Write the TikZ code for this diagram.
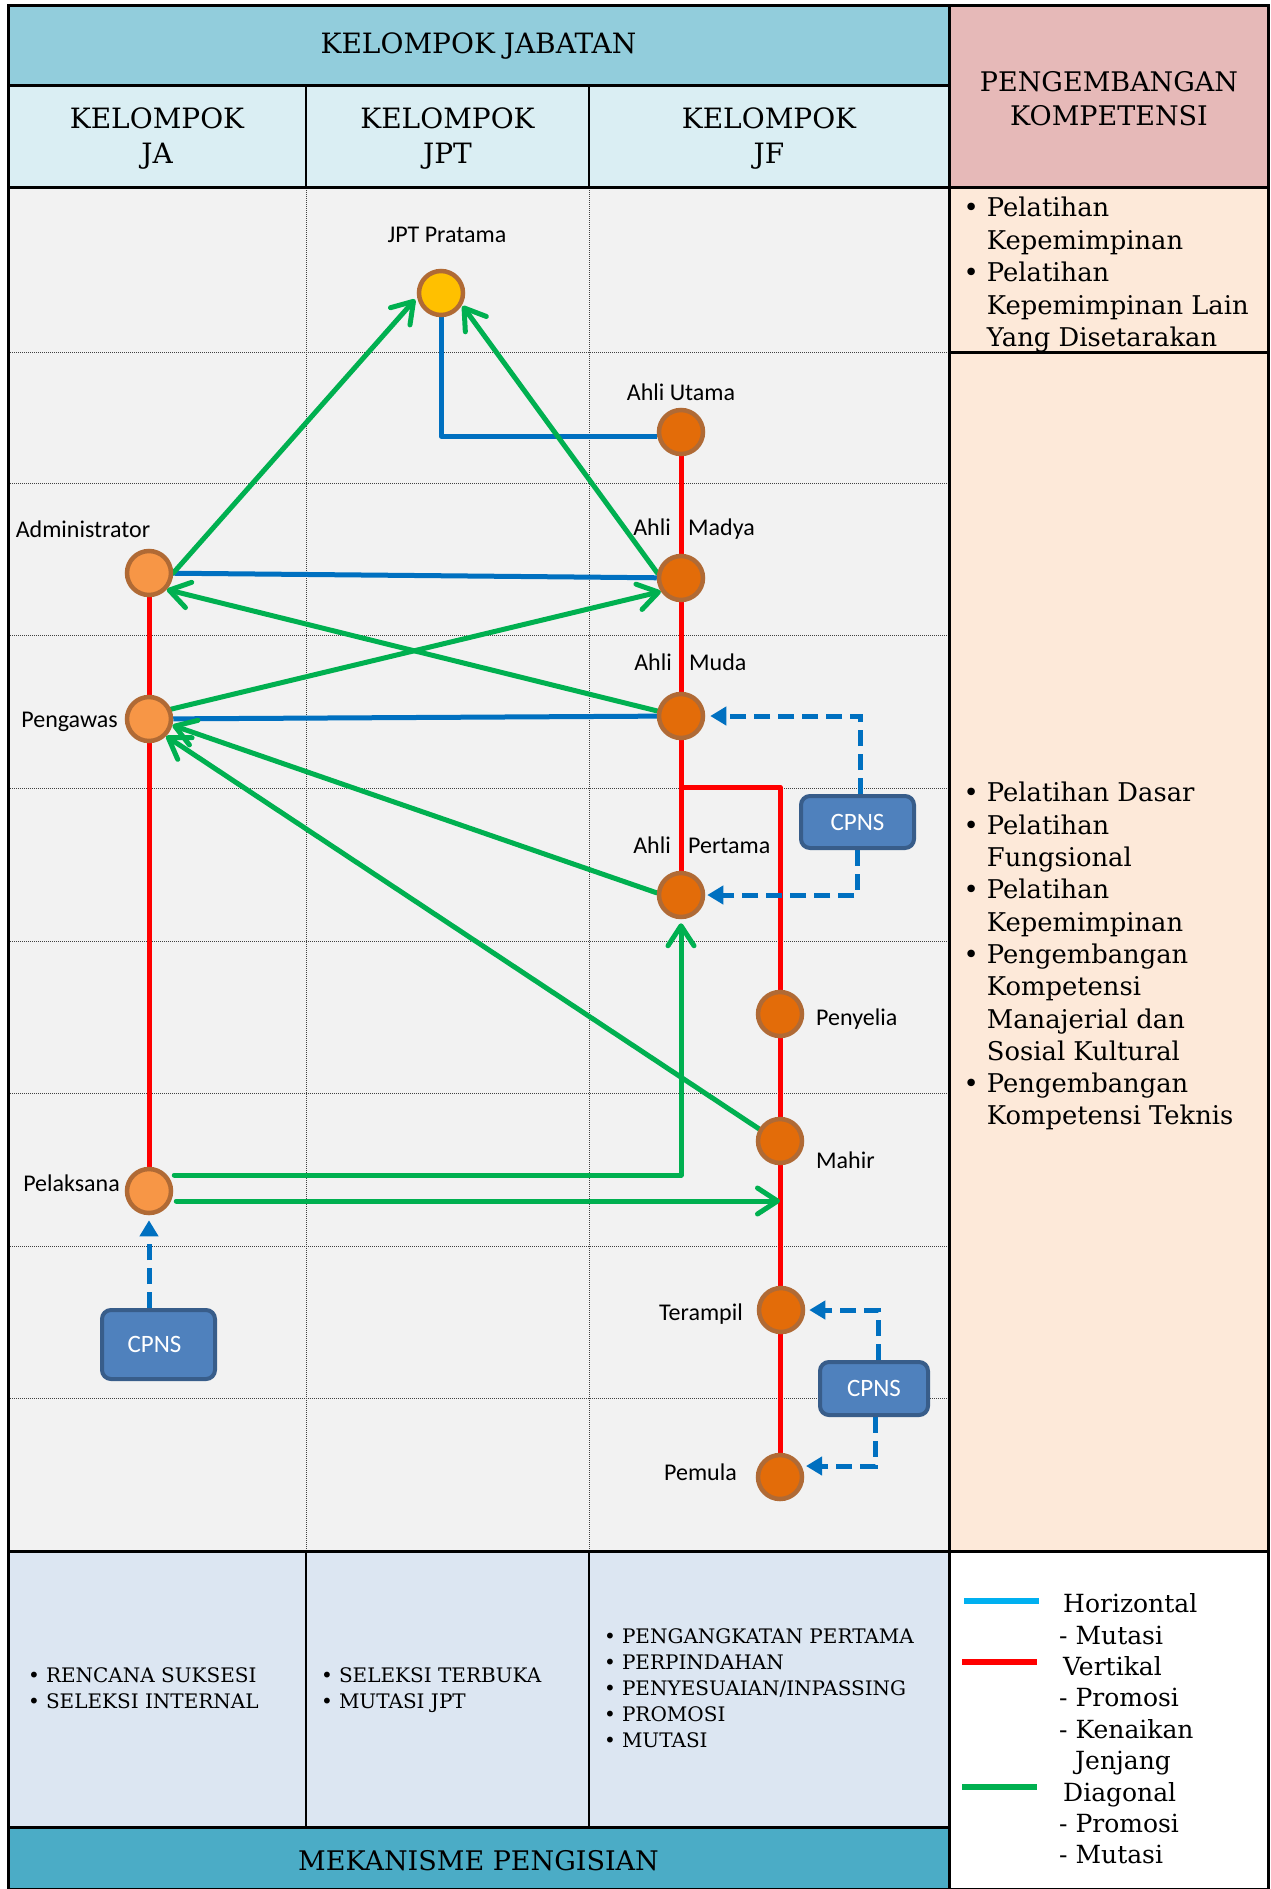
\documentclass[tikz,border=0pt]{standalone}
\usepackage{fontspec}
\setmainfont{DejaVu Serif}
\newfontfamily\lab{Carlito}
\usetikzlibrary{arrows.meta,calc}
\pgfdeclarelayer{background}
\pgfdeclarelayer{edges}
\pgfsetlayers{background,edges,main}
\definecolor{hdrA}{HTML}{92CDDC}
\definecolor{hdrB}{HTML}{DAEEF3}
\definecolor{pinkbox}{HTML}{E6B9B8}
\definecolor{peach}{HTML}{FDE9D9}
\definecolor{maingray}{HTML}{F2F2F2}
\definecolor{botblue}{HTML}{DCE6F2}
\definecolor{barblue}{HTML}{4BACC6}
\definecolor{lnblue}{HTML}{0070C0}
\definecolor{lnred}{HTML}{FF0000}
\definecolor{lngreen}{HTML}{00B050}
\definecolor{lgblue}{HTML}{00B0F0}
\definecolor{orlight}{HTML}{F79646}
\definecolor{ordark}{HTML}{E36C09}
\definecolor{gold}{HTML}{FFC000}
\definecolor{ring}{HTML}{B06A35}
\definecolor{cpnsfill}{HTML}{4F81BD}
\definecolor{cpnsline}{HTML}{385D8A}
\begin{document}
\begin{tikzpicture}[x=1pt,y=-1pt,
  frameline/.style={draw=black,line width=3pt},
  midline/.style={draw=black,line width=1.5pt},
  gridline/.style={draw=black!75,line width=1pt,dash pattern=on 1pt off 1pt},
  hdrtext/.style={font=\fontsize{28}{35}\selectfont,align=center,inner sep=0pt},
  paneltext/.style={font=\fontsize{25.8}{32.5}\selectfont,inner sep=0pt},
  bottext/.style={font=\fontsize{20}{26}\selectfont,inner sep=0pt},
  jacirc/.style={circle,minimum size=44pt,inner sep=0pt,line width=4.5pt,draw=ring,fill=orlight},
  jfcirc/.style={jacirc,fill=ordark},
  jptcirc/.style={jacirc,fill=gold},
  lbl/.style={font=\lab\fontsize{24}{28}\selectfont,inner sep=0pt,text height=15pt,text depth=0pt},
  cpns/.style={draw=cpnsline,fill=cpnsfill,line width=4pt,rounded corners=9pt,inner sep=0pt,
     text=white,font=\lab\fontsize{25}{28}\selectfont},
  bluecon/.style={draw=lnblue,line width=5pt},
  redcon/.style={draw=lnred,line width=5pt},
  greenarr/.style={draw=lngreen,line width=5pt,line cap=round,line join=round,
     -{Straight Barb[length=20pt,width=26pt,round]}},
  dasharr/.style={draw=lnblue,line width=5pt,dash pattern=on 16pt off 8pt,
     -{Triangle[length=16pt,width=18pt]}},
  swatch/.style={line width=6pt}
]
\useasboundingbox (0,0) rectangle (1270,1889);

% ---------- background cells ----------
\begin{pgfonlayer}{background}
\fill[hdrA] (8,6) rectangle (949,86);
\fill[hdrB] (8,86) rectangle (949,188);
\fill[pinkbox] (949,6) rectangle (1268,188);
\fill[maingray] (8,188) rectangle (949,1551);
\fill[peach] (949,188) rectangle (1268,1551);
\fill[botblue] (8,1551) rectangle (949,1827);
\fill[barblue] (8,1827) rectangle (949,1889);
\fill[white] (949,1551) rectangle (1268,1889);
\foreach \yy in {352,483,635,788,941,1093,1246,1398}
  \draw[gridline] (8,\yy) -- (949,\yy);
\draw[gridline] (306,188) -- (306,1551);
\draw[gridline] (589,188) -- (589,1551);
\draw[midline] (306,86) -- (306,188);
\draw[midline] (589,86) -- (589,188);
\draw[midline] (306,1551) -- (306,1827);
\draw[midline] (589,1551) -- (589,1827);
\draw[frameline] (8,86) -- (949,86);
\draw[frameline] (8,188) -- (1268,188);
\draw[frameline] (949,352) -- (1268,352);
\draw[frameline] (8,1551) -- (1268,1551);
\draw[frameline] (8,1827) -- (949,1827);
\draw[frameline] (949,6) -- (949,1889);
\draw[frameline] (8,6) rectangle (1268,1889);
\end{pgfonlayer}

% ---------- header texts ----------
\node[hdrtext] (hkj) at (478.5,46) {KELOMPOK JABATAN};
\node[hdrtext] (hja) at (157,139) {KELOMPOK\\JA};
\node[hdrtext] (hjpt) at (447.5,139) {KELOMPOK\\JPT};
\node[hdrtext] (hjf) at (769,139) {KELOMPOK\\JF};
\node[hdrtext,font=\fontsize{27}{34}\selectfont] (hpk) at (1109,99) {PENGEMBANGAN\\KOMPETENSI};

% ---------- right panel ----------
\node[paneltext,anchor=west] (pk1) at (963.5,275) {%
\begin{tabular}{@{}c@{\hspace{8pt}}l@{}}
\textbullet & Pelatihan\\
 & Kepemimpinan\\
\textbullet & Pelatihan\\
 & Kepemimpinan Lain\\
 & Yang Disetarakan
\end{tabular}};
\node[paneltext,anchor=west,font=\fontsize{25.8}{32.3}\selectfont] (pk2) at (963.5,957) {%
\begin{tabular}{@{}c@{\hspace{8pt}}l@{}}
\textbullet & Pelatihan Dasar\\
\textbullet & Pelatihan\\
 & Fungsional\\
\textbullet & Pelatihan\\
 & Kepemimpinan\\
\textbullet & Pengembangan\\
 & Kompetensi\\
 & Manajerial dan\\
 & Sosial Kultural\\
\textbullet & Pengembangan\\
 & Kompetensi Teknis
\end{tabular}};

% ---------- bottom ----------
\node[bottext,anchor=west] (mja) at (28,1690) {%
\begin{tabular}{@{}c@{\hspace{6pt}}l@{}}
\textbullet & RENCANA SUKSESI\\
\textbullet & SELEKSI INTERNAL
\end{tabular}};
\node[bottext,anchor=west] (mjpt) at (321,1690) {%
\begin{tabular}{@{}c@{\hspace{6pt}}l@{}}
\textbullet & SELEKSI TERBUKA\\
\textbullet & MUTASI JPT
\end{tabular}};
\node[bottext,anchor=west] (mjf) at (604,1690) {%
\begin{tabular}{@{}c@{\hspace{6pt}}l@{}}
\textbullet & PENGANGKATAN PERTAMA\\
\textbullet & PERPINDAHAN\\
\textbullet & PENYESUAIAN/INPASSING\\
\textbullet & PROMOSI\\
\textbullet & MUTASI
\end{tabular}};
\node[hdrtext,font=\fontsize{27}{34}\selectfont] (mek) at (478.5,1861) {MEKANISME PENGISIAN};

% ---------- legend ----------
\draw[swatch,lgblue] (964,1601) -- (1039,1601);
\draw[swatch,lnred] (962,1662) -- (1037,1662);
\draw[swatch,lngreen] (962,1787) -- (1037,1787);
\node[inner sep=0pt,anchor=west,font=\fontsize{25}{31.4}\selectfont] (leg) at (1059,1732) {%
\begin{tabular}{@{}l@{}}
\hspace{4pt}Horizontal\\
- Mutasi\\
\hspace{4pt}Vertikal\\
- Promosi\\
- Kenaikan\\
\hspace{16pt}Jenjang\\
\hspace{4pt}Diagonal\\
- Promosi\\
- Mutasi
\end{tabular}};

% ---------- position nodes ----------
\node[jptcirc] (jpt) at (441,293) {};
\node[jfcirc] (utama) at (681,432) {};
\node[jfcirc] (madya) at (681,578) {};
\node[jfcirc] (muda) at (681,716) {};
\node[jfcirc] (pertama) at (681,895) {};
\node[jfcirc] (penyelia) at (780,1014) {};
\node[jfcirc] (mahir) at (780,1141) {};
\node[jfcirc] (terampil) at (781,1310) {};
\node[jfcirc] (pemula) at (780,1477) {};
\node[jacirc] (admin) at (149,573) {};
\node[jacirc] (pengawas) at (149,719) {};
\node[jacirc] (pelaksana) at (149,1191) {};

\node[cpns,minimum width=113pt,minimum height=52pt] (cpnsU) at (857.5,822) {CPNS};
\node[cpns,minimum width=113pt,minimum height=69pt] (cpnsA) at (158.5,1344.5) {\hspace{-8pt}CPNS};
\node[cpns,minimum width=108pt,minimum height=53pt] (cpnsL) at (874,1388.5) {CPNS};

% ---------- labels ----------
\node[lbl] (ljpt) at (447,235) {JPT Pratama};
\node[lbl] (lutama) at (681,393) {Ahli Utama};
\node[lbl,anchor=east] (lmadyaA) at (671,528) {Ahli};
\node[lbl,anchor=west] (lmadyaB) at (688,528) {Madya};
\node[lbl,anchor=east] (lmudaA) at (672,663) {Ahli};
\node[lbl,anchor=west] (lmudaB) at (689,663) {Muda};
\node[lbl,anchor=east] (lpertA) at (671,846) {Ahli};
\node[lbl,anchor=west] (lpertB) at (688,846) {Pertama};
\node[lbl,anchor=west] (lpeny) at (816,1018) {Penyelia};
\node[lbl,anchor=west] (lmahir) at (816,1161) {Mahir};
\node[lbl,anchor=east] (lteram) at (743,1313) {Terampil};
\node[lbl,anchor=east] (lpemula) at (737,1473) {Pemula};
\node[lbl] (ladmin) at (83,530) {Administrator};
\node[lbl,anchor=east] (lpeng) at (118,720) {Pengawas};
\node[lbl,anchor=east] (lpel) at (120,1184) {Pelaksana};

% ---------- connectors ----------
\coordinate (jbr) at (681,787);
\coordinate (g7s) at ($(pelaksana.east)+(1,-16)$);
\coordinate (g8s) at ($(pelaksana.east)+(3,10)$);
\coordinate (utin) at ($(utama.west)+(0,4)$);
\coordinate (pmin) at ($(pemula.center)+(26,-11)$);
\begin{pgfonlayer}{edges}
% vertical (red)
\draw[redcon] (admin.center) -- (pelaksana.center);
\draw[redcon] (utama.center) -- (pertama.center);
\draw[redcon,line join=round] (jbr) -| (pemula.center);
% horizontal (blue)
\draw[bluecon,line join=round] (jpt) |- (utin);
\draw[bluecon] (admin) -- (madya);
\draw[bluecon] (pengawas) -- (muda);
% diagonal (green)
\draw[greenarr,shorten >=3pt] (admin.east) -- (jpt.190);
\draw[greenarr,shorten >=1pt] (madya.168) -- (jpt.330);
\draw[greenarr] (muda.168) -- (admin.317);
\draw[greenarr] (pengawas.24) -- (madya.214);
\draw[greenarr] (pertama.175) -- (pengawas.345);
\draw[greenarr] (mahir.150) -- (pengawas.315);
\draw[greenarr,shorten >=4pt] (g7s) -| (pertama);
\draw[greenarr] (g8s) -- (g8s -| pemula);
% CPNS entries (dashed)
\draw[dasharr,shorten >=5pt] (pelaksana |- cpnsA.north) -- (pelaksana);
\draw[dasharr,shorten >=5pt] ([xshift=2.5pt]cpnsU.north) |- (muda);
\draw[dasharr,shorten >=2pt] ([xshift=-0.5pt]cpnsU.south) |- (pertama);
\draw[dasharr,shorten >=4pt] ([xshift=4pt]cpnsL.north) |- (terampil);
\draw[dasharr] ([xshift=1pt]cpnsL.south) |- (pmin);
\end{pgfonlayer}
\end{tikzpicture}
\end{document}
